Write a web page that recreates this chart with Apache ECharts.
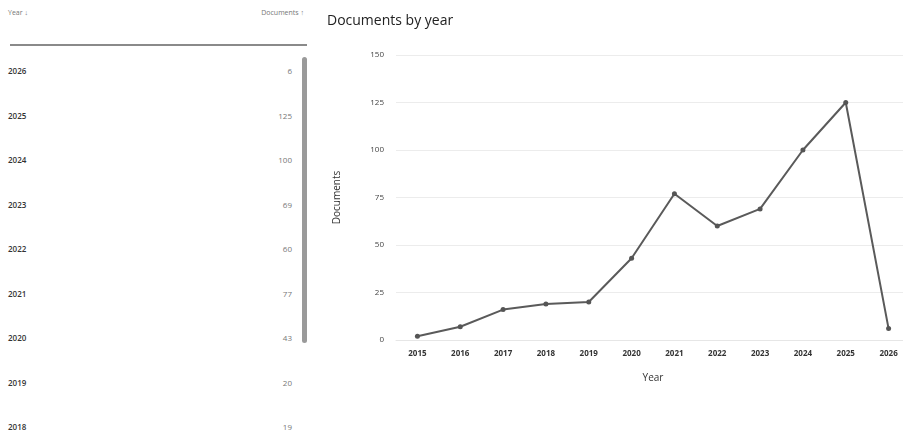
<!DOCTYPE html>
<html>
<head>
<meta charset="utf-8">
<script src="https://cdn.jsdelivr.net/npm/echarts@6/dist/echarts.min.js"></script>
<style>
html,body{margin:0;padding:0;background:#fff;width:903px;height:430px;overflow:hidden;font-family:"Open Sans",sans-serif;position:relative;}
#table{position:absolute;left:0;top:0;width:320px;height:430px;}
.hdr{position:absolute;top:8px;font-size:7px;color:#777;}
.rule{position:absolute;left:10px;top:44px;width:297px;height:2px;background:#8a8a8a;}
.yr{position:absolute;left:8px;font-size:8px;color:#333;font-weight:600;}
.val{position:absolute;right:28px;font-size:8px;color:#777;text-align:right;}
.scroll{position:absolute;left:302px;top:57px;width:5px;height:286px;background:#9a9a9a;border-radius:3px;}
#chart{position:absolute;left:320px;top:0;width:620px;height:430px;}
</style>
</head>
<body>
<div id="table">
  <div class="hdr" style="left:8px;">Year ↓</div>
  <div class="hdr" style="right:16px;">Documents ↑</div>
  <div class="rule"></div>
  <div class="scroll"></div>
</div>
<div id="chart"></div>
<script>
var years = ['2015','2016','2017','2018','2019','2020','2021','2022','2023','2024','2025','2026'];
var documents = [2, 7, 16, 19, 20, 43, 77, 60, 69, 100, 125, 6];
var tableYears = ['2026','2025','2024','2023','2022','2021','2020','2019','2018'];
var tableDocs = [6, 125, 100, 69, 60, 77, 43, 20, 19];

var tbl = document.getElementById('table');
for (var i = 0; i < tableYears.length; i++) {
  var rowTop = 65 + i * 44.5;
  var a = document.createElement('div');
  a.className = 'yr'; a.style.top = rowTop + 'px'; a.textContent = tableYears[i];
  tbl.appendChild(a);
  var b = document.createElement('div');
  b.className = 'val'; b.style.top = rowTop + 'px'; b.textContent = tableDocs[i];
  tbl.appendChild(b);
}

var chart = echarts.init(document.getElementById('chart'), null, {renderer: 'canvas'});
chart.setOption({
  animation: false,
  backgroundColor: '#fff',
  title: {
    text: 'Documents by year',
    left: 2, top: 9,
    textStyle: {fontFamily: 'Open Sans', fontSize: 14, fontWeight: 'normal', color: '#222'}
  },
  grid: {left: 76, top: 55, width: 514, height: 285, containLabel: false},
  xAxis: {
    type: 'category',
    data: years,
    boundaryGap: true,
    name: 'Year',
    nameLocation: 'middle',
    nameGap: 33,
    nameTextStyle: {fontFamily: 'Open Sans', fontSize: 10, color: '#333'},
    axisLine: {show: true, lineStyle: {color: '#e6e6e6'}},
    axisTick: {show: false},
    axisLabel: {fontFamily: 'Open Sans', fontSize: 8, color: '#333', fontWeight: 'bold', margin: 10, interval: 0}
  },
  yAxis: {
    type: 'value',
    min: 0, max: 150, interval: 25,
    name: 'Documents',
    nameLocation: 'middle',
    nameGap: 54,
    nameTextStyle: {fontFamily: 'Open Sans', fontSize: 10, color: '#333'},
    axisLine: {show: false},
    axisTick: {show: false},
    axisLabel: {fontFamily: 'Open Sans', fontSize: 8, color: '#444', margin: 12},
    splitLine: {lineStyle: {color: '#ececec'}}
  },
  series: [{
    type: 'line',
    data: documents,
    symbol: 'circle',
    symbolSize: 5,
    lineStyle: {color: '#5a5a5a', width: 2},
    itemStyle: {color: '#555'}
  }]
});
</script>
</body>
</html>
